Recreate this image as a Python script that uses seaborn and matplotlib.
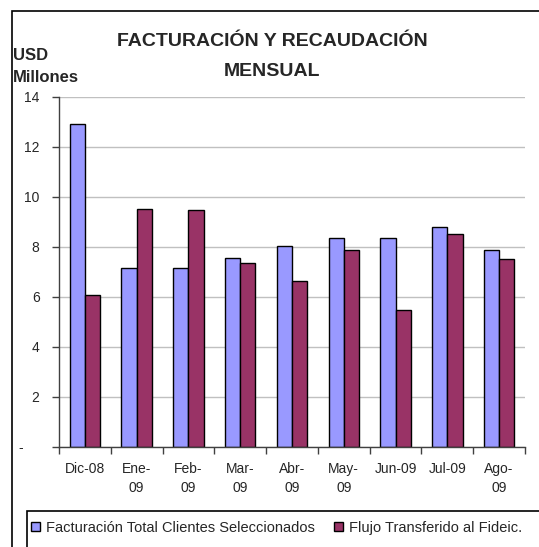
import pandas as pd
import seaborn as sns
from matplotlib import pyplot as plt
from matplotlib.patches import Rectangle

# valores (USD millones)
meses = ['Dic-08', 'Ene-\n09', 'Feb-\n09', 'Mar-\n09', 'Abr-\n09', 'May-\n09', 'Jun-09', 'Jul-09', 'Ago-\n09']
facturacion = [12.92, 7.17, 7.17, 7.55, 8.05, 8.37, 8.37, 8.81, 7.88]
flujo = [6.07, 9.53, 9.47, 7.35, 6.63, 7.88, 5.48, 8.53, 7.51]
series = ['Facturación Total Clientes Seleccionados', 'Flujo Transferido al Fideic.']
y_ticks = [0, 2, 4, 6, 8, 10, 12, 14]
y_labels = ['-    ', '2', '4', '6', '8', '10', '12', '14']  # guion del cero a la izquierda, como en Excel

data = pd.DataFrame({
    'mes': meses * 2,
    'valor': facturacion + flujo,
    'serie': [series[0]] * len(meses) + [series[1]] * len(meses),
})

sns.set_style('white')
plt.rcParams['font.family'] = ['Liberation Sans', 'DejaVu Sans']

fig = plt.figure(figsize=(5.39, 5.47), dpi=100)
ax = fig.add_axes([59 / 539, 100 / 547, 466 / 539, 350 / 547])

sns.barplot(data=data, x='mes', y='valor', hue='serie', palette=['#9999FF', '#993366'],
            width=0.59, gap=0, edgecolor='black', linewidth=1, saturation=1, ax=ax)
handles, labels = ax.get_legend_handles_labels()
ax.legend_.remove()

ax.set_xlim(-0.5, len(meses) - 0.5)
ax.set_ylim(0, 14)
ax.set_yticks(y_ticks)
ax.set_yticklabels(y_labels, fontsize=10)
ax.tick_params(axis='y', direction='out', length=5, width=1, color='#404040', pad=9, left=True)
ax.set_xticks(range(len(meses)))
ax.set_xticklabels(meses, fontsize=10, linespacing=1.45)
ax.tick_params(axis='x', which='major', length=0, pad=11)
ax.set_xticks([i + 0.5 for i in range(-1, len(meses))], minor=True)
ax.tick_params(axis='x', which='minor', direction='out', length=5, width=1, color='#404040', bottom=True)
ax.set_xlabel('')
ax.set_ylabel('')

ax.grid(axis='y', color='#C0C0C0', linewidth=1)
ax.set_axisbelow(True)
for side in ['top', 'right']:
    ax.spines[side].set_visible(False)
for side in ['left', 'bottom']:
    ax.spines[side].set_color('#404040')
    ax.spines[side].set_linewidth(1)

fig.text(272 / 539, 1 - 42 / 547, 'FACTURACIÓN Y RECAUDACIÓN', ha='center', va='center',
         fontsize=14, fontweight='bold')
fig.text(272 / 539, 1 - 72 / 547, 'MENSUAL', ha='center', va='center',
         fontsize=14, fontweight='bold')
fig.text(13 / 539, 1 - 55 / 547, 'USD', ha='left', va='center', fontsize=12, fontweight='bold')
fig.text(13 / 539, 1 - 77 / 547, 'Millones', ha='left', va='center', fontsize=12, fontweight='bold')

# marco exterior y marco de leyenda (recortados por el borde de la imagen)
fig.patches.append(Rectangle((12 / 539, -0.1), 1.2, 1.1 - 11 / 547, transform=fig.transFigure,
                             fill=False, edgecolor='black', linewidth=1.2))
fig.patches.append(Rectangle((27 / 539, -0.1), 1.2, 0.1 + 36 / 547, transform=fig.transFigure,
                             fill=False, edgecolor='black', linewidth=1.2))

fig.legend(handles, labels, loc='center left', bbox_to_anchor=(31 / 539, 19 / 547), ncol=2,
           frameon=False, fontsize=10.5, handlelength=0.6, handleheight=0.6, handletextpad=0.4,
           columnspacing=1.35, borderaxespad=0, borderpad=0)

fig.savefig('out.png', dpi=100)
